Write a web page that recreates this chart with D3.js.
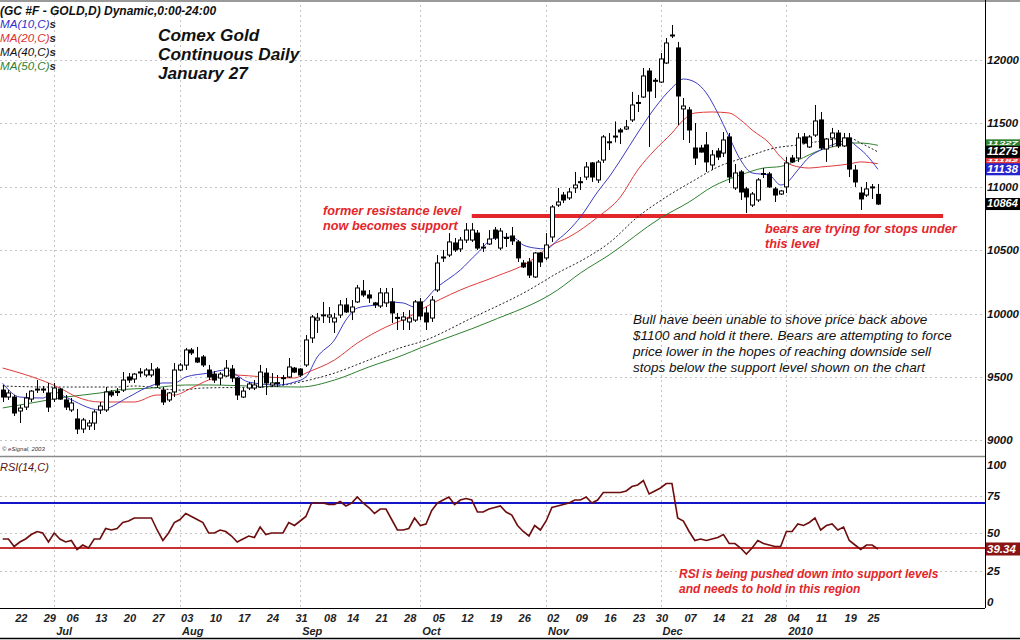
<!DOCTYPE html>
<html>
<head>
<meta charset="utf-8">
<script src="https://cdn.jsdelivr.net/npm/d3@7"></script>
<style>
  html, body { margin: 0; padding: 0; background: #fff; }
  svg { display: block; font-family: 'Liberation Sans', Arial, sans-serif; }
</style>
</head>
<body>
<svg id="chart" width="1020" height="640"></svg>
<script>
'use strict';

// Daily bars, Jun 18 2009 .. Jan 27 2010 : [open, high, low, close] (price x 10)
var ohlc = [
	[9397,9437,9303,9342],[9342,9397,9319,9374],[9342,9358,9192,9216],[9232,9279,9137,9255],
	[9263,9374,9240,9334],[9326,9397,9303,9389],[9400,9476,9374,9405],[9405,9429,9374,9400],
	[9374,9453,9224,9263],[9326,9453,9303,9413],[9405,9413,9319,9326],[9319,9358,9240,9263],
	[9240,9334,9224,9295],[9169,9248,9050,9090],[9090,9177,9058,9161],[9114,9161,9082,9137],
	[9137,9240,9082,9224],[9240,9303,9208,9271],[9240,9421,9224,9382],[9382,9397,9342,9358],
	[9385,9413,9350,9380],[9397,9539,9382,9476],[9500,9531,9453,9476],[9484,9531,9453,9523],
	[9535,9570,9500,9540],[9516,9570,9500,9555],[9516,9610,9500,9555],[9563,9579,9413,9437],
	[9397,9421,9279,9303],[9319,9382,9303,9374],[9382,9610,9342,9555],[9555,9610,9547,9594],
	[9594,9729,9555,9713],[9713,9729,9673,9690],[9650,9737,9610,9618],[9658,9673,9579,9595],
	[9555,9595,9476,9500],[9523,9547,9453,9476],[9492,9539,9437,9523],[9508,9634,9500,9570],
	[9563,9595,9460,9492],[9492,9500,9319,9358],[9342,9413,9334,9389],[9413,9460,9397,9445],
	[9413,9476,9397,9437],[9421,9595,9413,9539],[9531,9570,9358,9453],[9437,9531,9421,9453],
	[9455,9516,9421,9450],[9490,9516,9437,9495],[9500,9650,9492,9579],[9570,9579,9531,9539],
	[9563,9570,9500,9516],[9595,9831,9579,9792],[9808,9989,9768,9973],[9949,10005,9847,9965],
	[9985,10092,9926,9990],[9973,10052,9926,9989],[9934,10005,9847,9965],[9989,10107,9965,10068],
	[10068,10123,10005,10013],[10013,10107,9949,10052],[10092,10226,10084,10202],[10178,10265,10131,10147],
	[10147,10186,10084,10123],[10084,10092,10044,10068],[10060,10202,10044,10163],[10084,10202,10052,10163],
	[10092,10202,9926,10005],[9970,10005,9871,9965],[9949,10013,9871,9973],[9934,10028,9871,9965],
	[9949,10107,9934,10092],[10092,10123,9949,9981],[10005,10052,9871,9934],[9965,10139,9934,10107],
	[10186,10462,10170,10399],[10440,10502,10407,10446],[10462,10635,10446,10565],[10557,10596,10486,10502],
	[10510,10604,10486,10580],[10580,10714,10557,10659],[10580,10714,10565,10659],[10635,10659,10502,10517],
	[10525,10557,10486,10520],[10549,10659,10541,10588],[10659,10683,10580,10596],[10517,10675,10502,10651],
	[10600,10635,10525,10596],[10612,10683,10541,10573],[10565,10580,10407,10439],[10399,10423,10360,10368],
	[10407,10439,10281,10304],[10289,10486,10281,10478],[10478,10486,10368,10407],[10439,10635,10423,10541],
	[10604,10856,10565,10841],[10856,10991,10841,10880],[10935,10959,10872,10896],[10912,10991,10896,10959],
	[10991,11117,10951,11014],[11040,11077,10975,11038],[11077,11195,11054,11156],[11188,11195,11038,11077],
	[11054,11211,11030,11195],[11211,11408,11188,11393],[11350,11424,11290,11355],[11400,11515,11350,11397],
	[11448,11464,11337,11432],[11456,11527,11448,11472],[11527,11748,11511,11645],[11665,11724,11590,11660],
	[11708,11937,11700,11874],[11913,11937,11314,11755],[11840,11858,11700,11835],[11826,12055,11818,12008],
	[11976,12173,11968,12134],[12190,12276,12173,12197],[12095,12142,11487,11716],[11614,11700,11369,11637],
	[11606,11629,11345,11448],[11306,11503,11172,11227],[11306,11330,11270,11274],[11330,11432,11117,11196],
	[11172,11290,11132,11251],[11282,11306,11211,11235],[11266,11432,11235,11369],[11393,11424,11030,11077],
	[10991,11180,10975,11109],[11117,11132,10896,10959],[10983,10999,10793,10920],[10856,10959,10841,10943],
	[10896,11069,10880,11054],[11100,11148,11069,11105],[11101,11117,10991,10999],[10983,10999,10880,10935],
	[10943,10975,10935,10967],[10999,11235,10951,11188],[11227,11251,11188,11196],[11227,11424,11196,11385],
	[11393,11424,11337,11345],[11314,11408,11306,11393],[11408,11645,11393,11519],[11527,11590,11290,11306],
	[11298,11385,11196,11377],[11385,11464,11314,11424],[11424,11448,11306,11322],[11322,11424,11314,11385],
	[11385,11424,11077,11140],[11132,11172,10999,11038],[10951,10999,10817,10904],[10935,11038,10920,10983],
	[10995,11022,10904,10999],[10940,11022,10856,10864]
];

var ma10 = [[0,9450],[3,9342],[7,9334],[9,9382],[11,9342],[17,9240],[22,9342],[25,9413],[28,9453],[30,9453],
	[32,9500],[36,9531],[39,9555],[43,9460],[48,9437],[51,9460],[53,9500],[55,9658],[58,9792],[60,9949],
	[62,10044],[65,10068],[67,10092],[70,10084],[72,10052],[76,10210],[80,10344],[83,10478],[86,10596],
	[89,10604],[91,10541],[93,10517],[95,10510],[97,10580],[99,10659],[101,10762],[104,10960],[106,11077],
	[108,11211],[111,11424],[114,11622],[117,11780],[119,11850],[121,11826],[123,11740],[125,11582],
	[127,11393],[129,11211],[131,11109],[134,11093],[136,11014],[137,11030],[139,11132],[141,11235],
	[143,11290],[145,11330],[148,11369],[149,11330],[151,11251],[153,11138]];
var ma20 = [[0,9571],[10,9413],[13,9342],[17,9303],[23,9303],[27,9358],[30,9358],[33,9413],[36,9476],
	[40,9516],[46,9500],[51,9492],[53,9531],[58,9634],[62,9768],[67,9894],[71,9973],[73,10028],[80,10186],
	[86,10289],[92,10407],[96,10541],[99,10604],[104,10760],[108,10920],[111,11132],[114,11290],[117,11424],
	[119,11527],[121,11582],[124,11590],[127,11582],[129,11527],[131,11448],[134,11345],[136,11235],
	[138,11170],[141,11148],[143,11156],[145,11164],[148,11180],[150,11196],[153,11182]];
var ma40 = [[0,9429],[8,9421],[20,9421],[23,9429],[31,9397],[35,9413],[46,9421],[52,9460],[58,9531],
	[64,9634],[70,9737],[73,9776],[82,9965],[92,10186],[97,10320],[102,10439],[106,10557],[111,10762],
	[116,10920],[121,11054],[125,11156],[130,11235],[135,11306],[139,11330],[142,11353],[148,11385],
	[150,11345],[153,11275]];
var ma50 = [[0,9256],[6,9303],[11,9342],[17,9374],[20,9397],[26,9413],[32,9437],[36,9437],[46,9425],
	[52,9421],[58,9476],[64,9579],[70,9673],[73,9729],[85,9934],[97,10186],[101,10320],[106,10462],
	[115,10754],[120,10880],[124,10999],[129,11093],[133,11148],[136,11160],[139,11211],[143,11290],
	[145,11314],[148,11345],[150,11345],[153,11327]];

// RSI(14) per bar
var rsi = [46,46,41,44,46,49,51,50,44,50,46,44,45,39,42,40,46,46,53,52,
	53,57,58,60,60,60,60,52,45,50,57,59,63,61,59,57,50,50,52,51,
	48,44,46,48,47,54,49,50,50,50,57,55,58,61,70,70,70,69,69,71,
	68,70,74,70,67,63,66,66,59,52,52,53,60,55,56,65,70,72,74,69,
	72,73,72,64,64,66,67,68,64,62,55,51,48,55,52,58,67,68,69,70,
	72,72,74,70,72,77,77,77,77,78,81,82,85,76,78,80,83,83,60,58,
	51,45,46,45,46,47,49,43,43,40,36,40,45,43,42,41,41,51,51,56,
	55,57,60,52,55,56,52,54,45,42,39,42,42,39.34];

var weekTicks = [[2,'22'],[7,'29'],[11,'06'],[16,'13'],[21,'20'],[26,'27'],[31,'03'],[36,'10'],
	[41,'17'],[46,'24'],[51,'31'],[56,'08'],[60,'14'],[65,'21'],[70,'28'],[75,'05'],[80,'12'],
	[85,'19'],[90,'26'],[95,'02'],[100,'09'],[105,'16'],[110,'23'],[114,'30'],[119,'07'],
	[124,'14'],[129,'21'],[133,'28'],[137,'04'],[142,'11'],[147,'19'],[151,'25']];
var monthTicks = [[9,'Jul'],[31,'Aug'],[52,'Sep'],[73,'Oct'],[95,'Nov'],[115,'Dec'],[137,'2010']];
var priceTicks = [9000, 9500, 10000, 10500, 11000, 11500, 12000];
var rsiTicks = [0, 25, 50, 75, 100];
var rsiLevels = [70, 40];
var support = { value: 10770, from: 82, to: 164.4 };

var svg = d3.select('#chart');
var right = 985, priceBottom = 456, rsiTop = 458, rsiBottom = 608;

var x = d3.scaleLinear().domain([0, 153]).range([2.7, 877.9]);
var yP = d3.scaleLinear().domain([8877, 12473]).range([priceBottom, 0]);
var yR = d3.scaleLinear().domain([0, 100]).range([rsiBottom, rsiTop]);

var red = '#e3262a';
var px = function (v) { return Math.round(v) + 0.5; };

svg.append('rect').attr('width', 1020).attr('height', 640).attr('fill', '#fff');

// ---- grid
var grid = svg.append('g').attr('stroke', '#c4c4c4').attr('stroke-dasharray', '2,3');
grid.selectAll('line.hp').data(priceTicks).enter().append('line')
	.attr('x1', 0).attr('x2', right).attr('y1', function (d) { return px(yP(d)); })
	.attr('y2', function (d) { return px(yP(d)); });
grid.selectAll('line.hr').data([25, 50, 75]).enter().append('line')
	.attr('x1', 0).attr('x2', right).attr('y1', function (d) { return px(yR(d)); })
	.attr('y2', function (d) { return px(yR(d)); });
grid.selectAll('line.v').data(monthTicks).enter().append('line')
	.attr('x1', function (d) { return px(x(d[0])); }).attr('x2', function (d) { return px(x(d[0])); })
	.attr('y1', 0).attr('y2', rsiBottom);

// ---- frame
svg.append('line').attr('x1', 0).attr('x2', 1020).attr('y1', 1).attr('y2', 1).attr('stroke', '#9a9a9a').attr('stroke-width', 2);
svg.append('line').attr('x1', right + 0.5).attr('x2', right + 0.5).attr('y1', 0).attr('y2', rsiBottom).attr('stroke', '#000');
svg.append('line').attr('x1', 0).attr('x2', right).attr('y1', priceBottom + 0.5).attr('y2', priceBottom + 0.5).attr('stroke', '#8a8a8a').attr('stroke-width', 1.5);
svg.append('line').attr('x1', 0).attr('x2', right).attr('y1', rsiBottom + 0.5).attr('y2', rsiBottom + 0.5).attr('stroke', '#000');
svg.append('line').attr('x1', 0).attr('x2', 1020).attr('y1', 638.5).attr('y2', 638.5).attr('stroke', '#000').attr('stroke-width', 1.5);

// ---- support line
svg.append('line')
	.attr('x1', x(support.from)).attr('x2', x(support.to))
	.attr('y1', yP(support.value)).attr('y2', yP(support.value))
	.attr('stroke', red).attr('stroke-width', 4);

// ---- moving averages
var maLine = d3.line()
	.x(function (d) { return x(d[0]); })
	.y(function (d) { return yP(d[1]); })
	.curve(d3.curveMonotoneX);
var maDefs = [
	{ data: ma50, color: '#2f7f2f', dash: null },
	{ data: ma40, color: '#222', dash: '2,2' },
	{ data: ma20, color: '#e03a3a', dash: null },
	{ data: ma10, color: '#3b3bc4', dash: null }
];
svg.append('g').selectAll('path').data(maDefs).enter().append('path')
	.attr('d', function (d) { return maLine(d.data); })
	.attr('fill', 'none')
	.attr('stroke', function (d) { return d.color; })
	.attr('stroke-dasharray', function (d) { return d.dash; })
	.attr('stroke-width', 1);

// ---- candles
var candles = svg.append('g').selectAll('g').data(ohlc).enter().append('g');
candles.append('line')
	.attr('x1', function (d, i) { return px(x(i)); })
	.attr('x2', function (d, i) { return px(x(i)); })
	.attr('y1', function (d) { return yP(d[1]); })
	.attr('y2', function (d) { return yP(d[2]); })
	.attr('stroke', '#000');
candles.append('rect')
	.attr('x', function (d, i) { return Math.round(x(i)) - 1.5; })
	.attr('width', 4)
	.attr('y', function (d) { return yP(Math.max(d[0], d[3])); })
	.attr('height', function (d) { return Math.max(1, Math.abs(yP(d[0]) - yP(d[3]))); })
	.attr('fill', function (d) { return d[3] >= d[0] ? '#fff' : '#000'; })
	.attr('stroke', '#000')
	.attr('stroke-width', 1);

// ---- RSI panel
svg.append('g').selectAll('line').data(rsiLevels).enter().append('line')
	.attr('x1', 0).attr('x2', right)
	.attr('y1', function (d) { return yR(d); }).attr('y2', function (d) { return yR(d); })
	.attr('stroke', function (d, i) { return i === 0 ? '#1414c8' : '#c83232'; })
	.attr('stroke-width', 2);
svg.append('path')
	.attr('d', d3.line().x(function (d, i) { return x(i); }).y(function (d) { return yR(d); })(rsi))
	.attr('fill', 'none').attr('stroke', '#6e0d0d').attr('stroke-width', 1.6);

// ---- right axis labels
var axisFont = function (sel) {
	return sel.attr('font-size', 11.5).attr('font-style', 'italic').attr('font-weight', 'bold');
};
axisFont(svg.append('g').selectAll('text').data(priceTicks).enter().append('text'))
	.attr('x', 987).attr('y', function (d) { return yP(d) + 4; })
	.attr('fill', '#111').text(function (d) { return d; });
axisFont(svg.append('g').selectAll('text').data(rsiTicks).enter().append('text'))
	.attr('x', 987)
	.attr('y', function (d) { return Math.min(602, Math.max(465, yR(d))) + 4; })
	.attr('fill', '#111').text(function (d) { return d; });

// value badges : last values of each series, later ones drawn on top
var last = ohlc.length - 1;
var badges = [
	{ v: ma50[ma50.length - 1][1], bg: '#2f7f2f' },
	{ v: ma20[ma20.length - 1][1], bg: '#e03a3a' },
	{ v: ma40[ma40.length - 1][1], bg: '#000' },
	{ v: ma10[ma10.length - 1][1], bg: '#2323d0' },
	{ v: ohlc[last][3], bg: '#000' }
];
// a badge partly covered by a later one keeps only a strip; its text shrinks into that strip
badges.forEach(function (b, k) {
	b.top = yP(b.v) - 6;
	b.bottom = b.top + 12;
	b.visTop = b.top;
	b.visBottom = b.bottom;
	badges.slice(k + 1).forEach(function (o) {
		var oTop = yP(o.v) - 6, oBottom = oTop + 12;
		if (oBottom <= b.top || oTop >= b.bottom) { return; }
		if (oTop > b.top) { b.visBottom = Math.min(b.visBottom, oTop); }
		else { b.visTop = Math.max(b.visTop, oBottom); }
	});
	b.size = Math.min(11.5, (b.visBottom - b.visTop - 0.6) / 1.12);
});
var bg = svg.append('g').selectAll('g').data(badges).enter().append('g');
bg.append('rect').attr('x', 986).attr('width', 34).attr('height', 12)
	.attr('y', function (d) { return d.top; })
	.attr('fill', function (d) { return d.bg; });
axisFont(bg.append('text'))
	.attr('font-size', function (d) { return d.size; })
	.attr('textLength', function (d) { return d.size < 11 ? 31 : null; })
	.attr('lengthAdjust', 'spacingAndGlyphs')
	.attr('x', 987)
	.attr('y', function (d) { return d.visBottom - (d.size < 11 ? 0.25 * d.size : 2); })
	.attr('fill', '#fff')
	.text(function (d) { return Math.round(d.v); });
svg.append('rect').attr('x', 986).attr('width', 34).attr('height', 13)
	.attr('y', yR(rsi[last]) - 6.5).attr('fill', '#8a1414');
axisFont(svg.append('text')).attr('x', 987).attr('y', yR(rsi[last]) + 4)
	.attr('fill', '#fff').text(rsi[last].toFixed(2));

// ---- date axis
var dateFont = function (sel) {
	return sel.attr('font-size', 11).attr('font-style', 'italic').attr('font-weight', 'bold').attr('fill', '#222');
};
dateFont(svg.append('g').selectAll('text').data(weekTicks).enter().append('text'))
	.attr('x', function (d) { return x(d[0]) + 1; }).attr('y', 622)
	.text(function (d) { return d[1]; });
dateFont(svg.append('g').selectAll('text').data(monthTicks).enter().append('text'))
	.attr('x', function (d) { return x(d[0]) + 2; }).attr('y', 635)
	.text(function (d) { return d[1]; });

// ---- legend and notes
var txt = function (x0, y0, s, size, color, weight) {
	return svg.append('text').attr('x', x0).attr('y', y0).attr('font-size', size)
		.attr('font-style', 'italic').attr('font-weight', weight || 'normal')
		.attr('fill', color).text(s);
};
txt(0, 15, '(GC #F - GOLD,D) Dynamic,0:00-24:00', 12, '#111', 'bold');
[['MA(10,C)', '#3030c8'], ['MA(20,C)', '#e03030'], ['MA(40,C)', '#111'], ['MA(50,C)', '#2f7f2f']]
	.forEach(function (m, k) {
		var t = txt(0, 28 + k * 14, m[0], 11.6, m[1]);
		t.append('tspan').attr('font-weight', 'bold').attr('fill', '#222').text('s');
	});
txt(158, 41, 'Comex Gold', 17.2, '#111', 'bold');
txt(158, 60, 'Continuous Daily', 17.2, '#111', 'bold');
txt(158, 79, 'January 27', 17.2, '#111', 'bold');

txt(323, 215, 'former resistance level', 12.7, red, 'bold');
txt(323, 230, 'now becomes support', 12.7, red, 'bold');
txt(765, 233, 'bears are trying for stops under', 12.7, red, 'bold');
txt(765, 248, 'this level', 12.7, red, 'bold');

txt(633, 324, 'Bull have been unable to shove price back above', 13.5, '#111');
txt(633, 340, '$1100 and hold it there. Bears are attempting to force', 13.5, '#111');
txt(633, 356, 'price lower in the hopes of reaching downside sell', 13.5, '#111');
txt(633, 372, 'stops below the support level shown on the chart', 13.5, '#111');

txt(679, 578, 'RSI is being pushed down into support levels', 12, red, 'bold');
txt(679, 593, 'and needs to hold in this region', 12, red, 'bold');

txt(0, 471, 'RSI(14,C)', 11, '#5a1010');
txt(2, 451, '\u00a9 eSignal, 2003', 6, '#333');
</script>
</body>
</html>
